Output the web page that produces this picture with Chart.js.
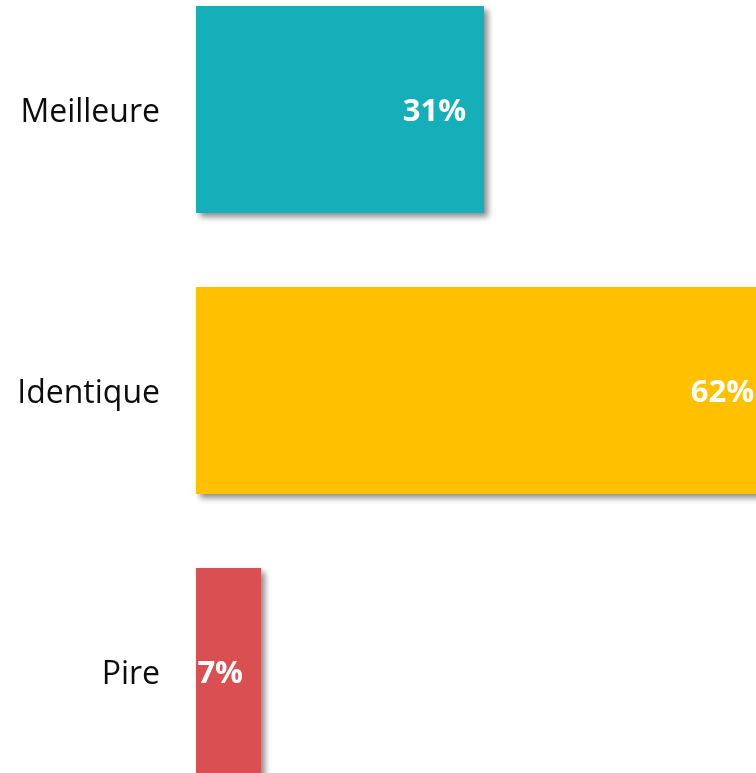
<!DOCTYPE html>
<html>
<head>
<meta charset="utf-8">
<script src="https://cdn.jsdelivr.net/npm/chart.js@4/dist/chart.umd.min.js"></script>
<style>
    html, body { margin: 0; padding: 0; background: #fff; overflow: hidden; width: 756px; height: 773px; }
    #wrap { position: absolute; left: 0; top: -31px; }
</style>
</head>
<body>
<div id="wrap"><canvas id="chart" width="800" height="843"></canvas></div>
<script>
// données
const categories = ['Meilleure', 'Identique', 'Pire'];
const values = [31, 62, 7];
const barColors = ['#14AFB8', '#FFC000', '#DA4F52'];

// ombre des barres + étiquettes de valeur
const barDecor = {
    id: 'barDecor',
    beforeDatasetsDraw(chart) {
        const ctx = chart.ctx;
        ctx.save();
        ctx.shadowColor = 'rgba(0,0,0,0.45)';
        ctx.shadowOffsetX = 4;
        ctx.shadowOffsetY = 4;
        ctx.shadowBlur = 6;
    },
    afterDatasetsDraw(chart) {
        const ctx = chart.ctx;
        ctx.restore();
        ctx.save();
        ctx.font = 'bold 31px "Open Sans"';
        ctx.fillStyle = '#fff';
        ctx.textAlign = 'right';
        ctx.textBaseline = 'middle';
        chart.getDatasetMeta(0).data.forEach((bar, i) => {
            ctx.fillText(values[i] + '%', bar.x - 18, bar.y + 3);
        });
        ctx.restore();
    }
};

new Chart(document.getElementById('chart'), {
    type: 'bar',
    data: {
        labels: categories,
        datasets: [{
            data: values,
            backgroundColor: barColors,
            borderWidth: 0,
            categoryPercentage: 1,
            barPercentage: 0.737
        }]
    },
    options: {
        indexAxis: 'y',
        responsive: false,
        animation: false,
        layout: { padding: 0 },
        plugins: { legend: { display: false }, tooltip: { enabled: false } },
        scales: {
            x: { display: false, min: 0, max: 65 },
            y: {
                grid: { display: false, drawTicks: false },
                border: { display: false },
                ticks: { padding: 36, labelOffset: 3, color: '#0d0d0d', font: { family: 'Open Sans', size: 32 } },
                afterFit(scale) {
                    scale.width = 196;
                    scale.paddingTop = 0;
                    scale.paddingBottom = 0;
                }
            }
        }
    },
    plugins: [barDecor]
});
</script>
</body>
</html>
